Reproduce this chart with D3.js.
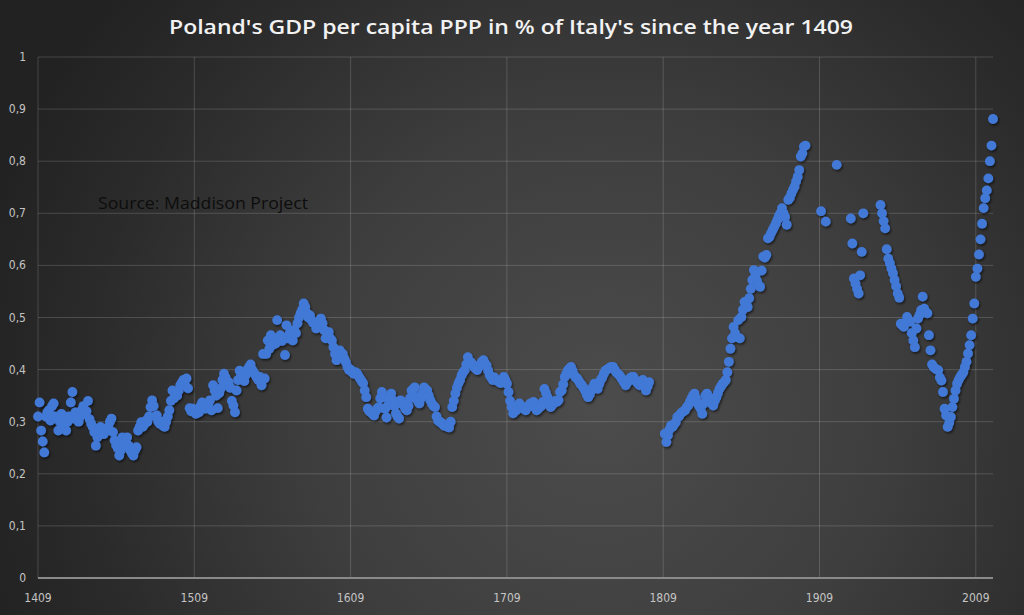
<!DOCTYPE html>
<html>
<head>
<meta charset="utf-8">
<script src="https://cdn.jsdelivr.net/npm/d3@7"></script>
<style>
  html, body { margin: 0; padding: 0; background: #262626; }
  svg { display: block; }
</style>
</head>
<body>
<svg id="chart" width="1024" height="615"></svg>
<script>
// ---------------- DATA ----------------
const titleText = "Poland's GDP per capita PPP in % of Italy's since the year 1409";
const sourceText = "Source: Maddison Project";

const xTickYears = [1409, 1509, 1609, 1709, 1809, 1909, 2009];
const xTickLabels = ["1409", "1509", "1609", "1709", "1809", "1909", "2009"];
const yTickValues = [0, 0.1, 0.2, 0.3, 0.4, 0.5, 0.6, 0.7, 0.8, 0.9, 1];
const yTickLabels = ["0", "0,1", "0,2", "0,3", "0,4", "0,5", "0,6", "0,7", "0,8", "0,9", "1"];

// Segment 1: one value per year, 1409 .. 1800
const seg1StartYear = 1409;
const seg1Values = [
  0.31,0.337,0.283,0.262,0.241,0.31,0.318,0.322,0.302,0.33,
  0.335,0.31,0.306,0.283,0.30,0.315,0.312,0.295,0.283,0.30,
  0.31,0.337,0.357,0.306,0.318,0.31,0.30,0.31,0.322,0.33,
  0.315,0.32,0.34,0.305,0.296,0.29,0.28,0.254,0.27,0.283,
  0.29,0.28,0.276,0.285,0.283,0.29,0.30,0.306,0.28,0.264,
  0.255,0.249,0.235,0.245,0.27,0.26,0.264,0.27,0.254,0.245,
  0.24,0.235,0.245,0.251,0.283,0.29,0.299,0.29,0.295,0.302,
  0.30,0.31,0.328,0.341,0.33,0.31,0.312,0.30,0.296,0.30,
  0.292,0.29,0.30,0.31,0.322,0.34,0.36,0.345,0.35,0.35,
  0.36,0.37,0.375,0.38,0.37,0.383,0.364,0.326,0.32,0.325,
  0.322,0.315,0.32,0.318,0.33,0.337,0.33,0.325,0.33,0.335,
  0.341,0.322,0.37,0.36,0.35,0.326,0.355,0.364,0.38,0.392,
  0.385,0.37,0.376,0.365,0.34,0.331,0.318,0.36,0.38,0.398,
  0.39,0.38,0.378,0.39,0.40,0.405,0.41,0.40,0.395,0.39,
  0.385,0.38,0.386,0.37,0.43,0.383,0.43,0.456,0.44,0.466,
  0.447,0.46,0.45,0.495,0.456,0.466,0.455,0.46,0.428,0.485,
  0.46,0.47,0.465,0.456,0.476,0.47,0.489,0.50,0.508,0.515,
  0.527,0.52,0.508,0.50,0.504,0.495,0.49,0.489,0.479,0.485,
  0.49,0.498,0.489,0.476,0.46,0.465,0.472,0.46,0.456,0.443,
  0.43,0.418,0.425,0.437,0.432,0.43,0.421,0.414,0.405,0.399,
  0.40,0.395,0.392,0.395,0.393,0.388,0.383,0.378,0.374,0.36,
  0.347,0.325,0.32,0.318,0.315,0.312,0.32,0.325,0.328,0.345,
  0.357,0.347,0.325,0.308,0.331,0.345,0.354,0.341,0.33,0.316,
  0.31,0.306,0.341,0.335,0.331,0.325,0.322,0.33,0.345,0.36,
  0.362,0.366,0.347,0.34,0.335,0.345,0.355,0.366,0.362,0.36,
  0.35,0.341,0.335,0.33,0.328,0.31,0.302,0.30,0.298,0.295,
  0.292,0.293,0.29,0.289,0.30,0.328,0.34,0.354,0.365,0.374,
  0.38,0.389,0.395,0.399,0.41,0.424,0.415,0.414,0.41,0.405,
  0.402,0.399,0.405,0.41,0.415,0.418,0.412,0.408,0.398,0.389,
  0.385,0.38,0.385,0.38,0.379,0.376,0.374,0.38,0.386,0.38,
  0.373,0.357,0.34,0.328,0.316,0.32,0.322,0.33,0.335,0.33,
  0.328,0.325,0.322,0.328,0.331,0.335,0.33,0.338,0.33,0.322,
  0.325,0.328,0.33,0.338,0.363,0.355,0.347,0.335,0.328,0.332,
  0.338,0.34,0.338,0.341,0.357,0.36,0.372,0.386,0.392,0.399,
  0.402,0.405,0.398,0.389,0.385,0.383,0.378,0.373,0.37,0.365,
  0.36,0.352,0.347,0.352,0.36,0.366,0.373,0.368,0.363,0.372,
  0.38,0.385,0.392,0.398,0.40,0.402,0.404,0.405,0.405,0.40,
  0.395,0.392,0.389,0.385,0.38,0.375,0.37,0.375,0.38,0.384,
  0.386,0.386,0.38,0.376,0.373,0.37,0.375,0.38,0.37,0.36,
  0.368,0.376
];

// Segment 2: one value per year, 1810 .. 1900
const seg2StartYear = 1810;
const seg2Values = [
  0.277,0.261,0.274,0.285,0.293,0.29,0.295,0.299,0.309,0.31,
  0.315,0.318,0.32,0.322,0.328,0.331,0.338,0.344,0.35,0.354,
  0.345,0.335,0.33,0.325,0.315,0.335,0.35,0.354,0.348,0.344,
  0.336,0.331,0.34,0.347,0.355,0.363,0.368,0.373,0.376,0.38,
  0.395,0.415,0.44,0.46,0.482,0.47,0.463,0.495,0.46,0.501,
  0.515,0.53,0.525,0.52,0.537,0.555,0.572,0.591,0.581,0.57,
  0.562,0.559,0.59,0.617,0.615,0.62,0.652,0.655,0.662,0.668,
  0.674,0.68,0.687,0.695,0.70,0.71,0.70,0.693,0.678,0.726,
  0.73,0.738,0.745,0.751,0.761,0.77,0.783,0.809,0.815,0.828,
  0.83
];

// Segment 3: sparse years between the wars
const seg3Years  = [1910, 1913, 1920, 1929, 1930, 1931, 1932, 1933, 1934, 1935, 1936, 1937];
const seg3Values = [0.704, 0.684, 0.793, 0.69, 0.642, 0.575, 0.565, 0.555, 0.546, 0.581, 0.626, 0.70];

// Segment 4: one value per year, 1948 .. 2020
const seg4StartYear = 1948;
const seg4Values = [
  0.716,0.70,0.685,0.671,0.631,0.613,0.604,0.594,0.585,0.572,
  0.56,0.546,0.538,0.488,0.485,0.482,0.49,0.501,0.495,0.492,
  0.47,0.456,0.443,0.479,0.498,0.505,0.514,0.54,0.517,0.51,
  0.508,0.466,0.437,0.41,0.405,0.402,0.40,0.399,0.385,0.379,
  0.357,0.325,0.312,0.29,0.298,0.309,0.328,0.344,0.36,0.373,
  0.38,0.386,0.39,0.395,0.405,0.415,0.431,0.447,0.466,0.498,
  0.527,0.578,0.594,0.621,0.65,0.68,0.71,0.729,0.744,0.767,
  0.80,0.83,0.881
];

// ---------------- BUILD POINTS ----------------
const points = [];
seg1Values.forEach((v, i) => points.push({ year: seg1StartYear + i, value: v }));
seg2Values.forEach((v, i) => points.push({ year: seg2StartYear + i, value: v }));
seg3Years.forEach((y, i) => points.push({ year: y, value: seg3Values[i] }));
seg4Values.forEach((v, i) => points.push({ year: seg4StartYear + i, value: v }));

// ---------------- DRAW ----------------
const W = 1024, H = 615;
const margin = { left: 38, right: 31, top: 57, bottom: 37 };
const svg = d3.select("#chart");

const defs = svg.append("defs");
const bg = defs.append("radialGradient")
  .attr("id", "bg").attr("gradientUnits", "userSpaceOnUse")
  .attr("cx", 600).attr("cy", 410).attr("r", 640);
bg.append("stop").attr("offset", "0%").attr("stop-color", "#4c4c4c");
bg.append("stop").attr("offset", "45%").attr("stop-color", "#3e3e3e");
bg.append("stop").attr("offset", "80%").attr("stop-color", "#2b2b2b");
bg.append("stop").attr("offset", "100%").attr("stop-color", "#222222");

const shadow = defs.append("filter").attr("id", "shadow")
  .attr("x", "-50%").attr("y", "-50%").attr("width", "200%").attr("height", "200%");
shadow.append("feDropShadow")
  .attr("dx", 1.2).attr("dy", 1.6).attr("stdDeviation", 1.1)
  .attr("flood-color", "#000").attr("flood-opacity", 0.6);

svg.append("rect").attr("width", W).attr("height", H).attr("fill", "url(#bg)");

const x = d3.scaleLinear().domain([1409, 2020]).range([margin.left, W - margin.right]);
const y = d3.scaleLinear().domain([0, 1]).range([H - margin.bottom, margin.top]);

const gridColor = "rgba(255,255,255,0.16)";

// horizontal gridlines
svg.append("g").selectAll("line").data(yTickValues.filter(d => d > 0)).join("line")
  .attr("x1", x(1409)).attr("x2", x(2020))
  .attr("y1", d => y(d)).attr("y2", d => y(d))
  .attr("stroke", gridColor).attr("stroke-width", 1);

// vertical gridlines
svg.append("g").selectAll("line").data(xTickYears).join("line")
  .attr("x1", d => x(d)).attr("x2", d => x(d))
  .attr("y1", y(0)).attr("y2", y(1))
  .attr("stroke", gridColor).attr("stroke-width", 1);

// bottom axis line
svg.append("line")
  .attr("x1", x(1409)).attr("x2", x(2020))
  .attr("y1", y(0)).attr("y2", y(0))
  .attr("stroke", "#8a8a8a").attr("stroke-width", 2);

// y tick labels
svg.append("g").selectAll("text").data(yTickValues).join("text")
  .attr("x", 26).attr("y", d => y(d) + 4)
  .attr("text-anchor", "end")
  .attr("font-family", "'Liberation Sans Narrow', 'DejaVu Sans Condensed', 'Open Sans', sans-serif")
  .attr("font-size", 12).attr("fill", "#c4c4c4")
  .text((d, i) => yTickLabels[i]);

// x tick labels
svg.append("g").selectAll("text").data(xTickYears).join("text")
  .attr("x", d => x(d)).attr("y", 602)
  .attr("text-anchor", "middle")
  .attr("font-family", "'Liberation Sans Narrow', 'DejaVu Sans Condensed', 'Open Sans', sans-serif")
  .attr("font-size", 12).attr("fill", "#c4c4c4")
  .text((d, i) => xTickLabels[i]);

// points
svg.append("g").attr("filter", "url(#shadow)")
  .selectAll("circle").data(points).join("circle")
  .attr("cx", d => x(d.year)).attr("cy", d => y(d.value))
  .attr("r", 4.9).attr("fill", "#4279d6");

// title
svg.append("text")
  .attr("x", 511).attr("y", 34)
  .attr("text-anchor", "middle")
  .attr("font-family", "'Open Sans', 'DejaVu Sans', sans-serif")
  .attr("font-weight", 600).attr("font-size", 19)
  .attr("fill", "#f2f2f2")
  .attr("textLength", 684).attr("lengthAdjust", "spacingAndGlyphs")
  .text(titleText);

// source note
svg.append("text")
  .attr("x", 98).attr("y", 209)
  .attr("font-family", "'Open Sans', 'DejaVu Sans', sans-serif")
  .attr("font-size", 16).attr("fill", "#0d0d0d")
  .attr("textLength", 210).attr("lengthAdjust", "spacingAndGlyphs")
  .text(sourceText);
</script>
</body>
</html>
